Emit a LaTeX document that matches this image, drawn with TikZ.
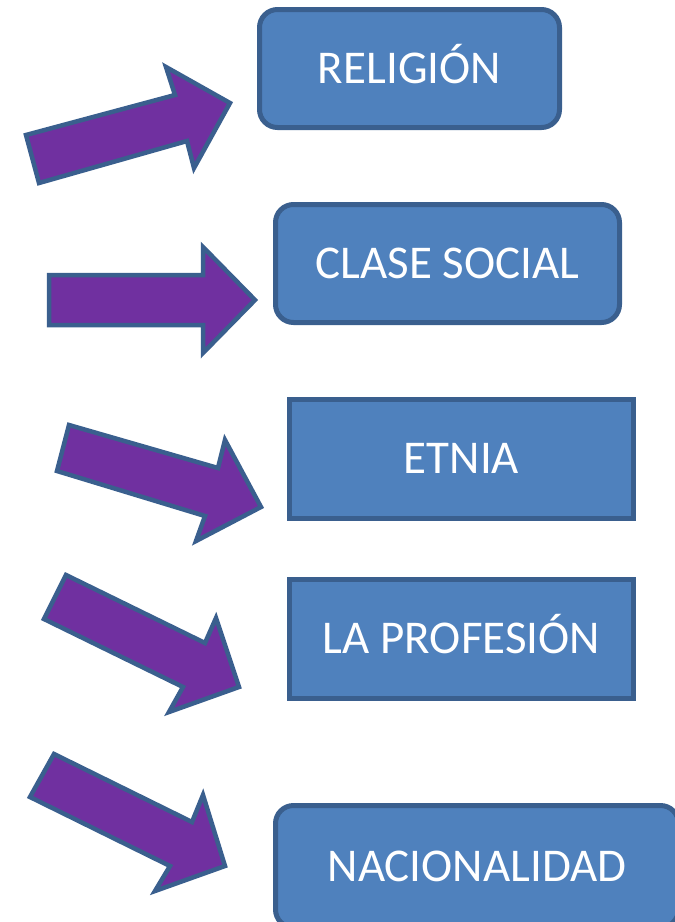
\documentclass[tikz,border=0pt]{standalone}
\usepackage{fontspec}
\setmainfont{Carlito}
\definecolor{boxblue}{HTML}{4F81BD}
\definecolor{edgeblue}{HTML}{3A5F8E}
\definecolor{arrowpurple}{HTML}{7030A0}
\tikzset{>=stealth,
  topic/.style={draw=edgeblue, fill=boxblue, line width=5pt, text=white, inner sep=0pt,
    font=\fontsize{47}{54}\selectfont, text height=29.5pt, text depth=0pt},
  roundtopic/.style={topic, rounded corners=18pt},
  bigarrow/.style={draw=edgeblue, fill=arrowpurple, line width=4.5pt, line join=miter}}
\begin{document}
\begin{tikzpicture}[x=1pt, y=-1pt]
\useasboundingbox (0,0) rectangle (675,922);
\clip (0,0) rectangle (675,922);
\node[roundtopic, minimum width=300pt, minimum height=118pt] (religion) at (409.5,68.5) {RELIGIÓN};
\node[roundtopic, minimum width=344pt, minimum height=118pt] (clase) at (447.5,263.5) {CLASE SOCIAL};
\node[topic, minimum width=344pt, minimum height=119pt] (etnia) at (461.5,459) {ETNIA};
\node[topic, minimum width=344pt, minimum height=119pt] (profesion) at (461.5,639) {LA PROFESIÓN};
\node[roundtopic, minimum width=403pt, minimum height=122pt] (nacion) at (477,866.5) {NACIONALIDAD};
\draw[bigarrow] (39,183) -- (26,135) -- (175,95) -- (166,67) -- (230,103) -- (194,168) -- (187,141) -- cycle;
\draw[bigarrow] (49,325) -- (49,275) -- (203,275) -- (203,247) -- (255,300) -- (203,353) -- (203,325) -- cycle;
\draw[bigarrow] (57,471) -- (69,425) -- (218,468) -- (225,440) -- (261,507) -- (196,541) -- (205,516) -- cycle;
\draw[bigarrow] (44,619) -- (66,575) -- (205,643) -- (216,618) -- (239,687) -- (169,712) -- (183,687) -- cycle;
\draw[bigarrow] (30,797) -- (54,754) -- (192,822) -- (203,795) -- (225,866) -- (155,891) -- (170,866) -- cycle;
\end{tikzpicture}
\end{document}
